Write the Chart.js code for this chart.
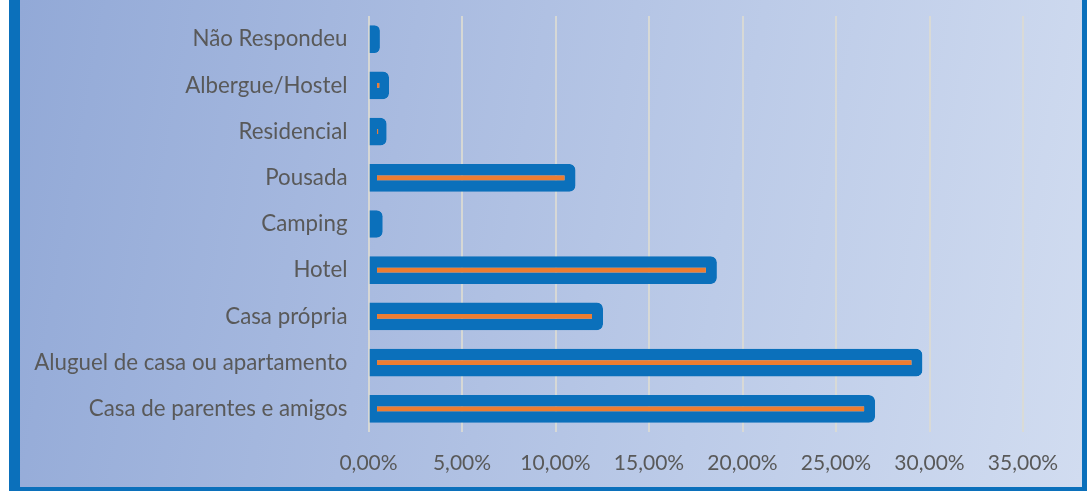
<!DOCTYPE html>
<html>
<head>
<meta charset="utf-8">
<script src="https://cdn.jsdelivr.net/npm/chart.js@4/dist/chart.umd.min.js"></script>
<style>
  html, body { margin: 0; padding: 0; background: #ffffff; width: 1087px; height: 491px; overflow: hidden; }
  #frame {
    position: absolute; left: 9px; top: 0; width: 1062px; height: 487px;
    border-left: 11px solid #0b70bb; border-right: 5px solid #0b70bb; border-bottom: 4px solid #0b70bb;
    background: linear-gradient(100deg, #92a9d7 0%, #a9bbe0 35%, #bccbe8 65%, #d1dcf0 100%);
  }
  #c { position: absolute; left: 0; top: 0; }
</style>
</head>
<body>
<div id="frame"><canvas id="c" width="1062" height="487"></canvas></div>
<script>
const categories = ['Não Respondeu', 'Albergue/Hostel', 'Residencial', 'Pousada', 'Camping', 'Hotel', 'Casa própria', 'Aluguel de casa ou apartamento', 'Casa de parentes e amigos'];
const percentValues = [0.61, 1.10, 0.97, 11.07, 0.76, 18.63, 12.54, 29.62, 27.09];
const tickLabels = ['0,00%', '5,00%', '10,00%', '15,00%', '20,00%', '25,00%', '30,00%', '35,00%'];

const FAMILY = 'Lato, "Open Sans", sans-serif';

new Chart(document.getElementById('c'), {
  type: 'bar',
  data: {
    labels: categories,
    datasets: [{
      data: percentValues,
      backgroundColor: '#ed7d31',
      borderColor: '#0b70bb',
      borderWidth: { left: 7.5, right: 11, top: 11.5, bottom: 11.5 },
      borderSkipped: false,
      borderRadius: { topLeft: 0, bottomLeft: 0, topRight: 6, bottomRight: 6 },
      barPercentage: 0.6,
      categoryPercentage: 1.0
    }]
  },
  options: {
    indexAxis: 'y',
    responsive: false,
    animation: false,
    devicePixelRatio: 1,
    layout: { padding: { top: 16, right: 59, bottom: 0, left: 0 } },
    plugins: { legend: { display: false }, tooltip: { enabled: false } },
    scales: {
      x: {
        min: 0, max: 35,
        ticks: {
          stepSize: 5,
          color: '#595959',
          font: { family: FAMILY, size: 21 },
          padding: 19,
          maxRotation: 0,
          callback: (v, i) => tickLabels[i]
        },
        grid: { color: 'rgba(218,218,212,0.9)', lineWidth: 2, drawTicks: false },
        border: { display: false },
        afterFit: (s) => { s.height = 55; s.paddingLeft = 0; s.paddingRight = 0; }
      },
      y: {
        ticks: { color: '#595959', font: { family: FAMILY, size: 22.3 }, padding: 21 },
        grid: { display: false, drawTicks: false },
        border: { display: false },
        afterFit: (s) => { s.width = 348.5; s.paddingTop = 0; s.paddingBottom = 0; }
      }
    }
  }
});
</script>
</body>
</html>
